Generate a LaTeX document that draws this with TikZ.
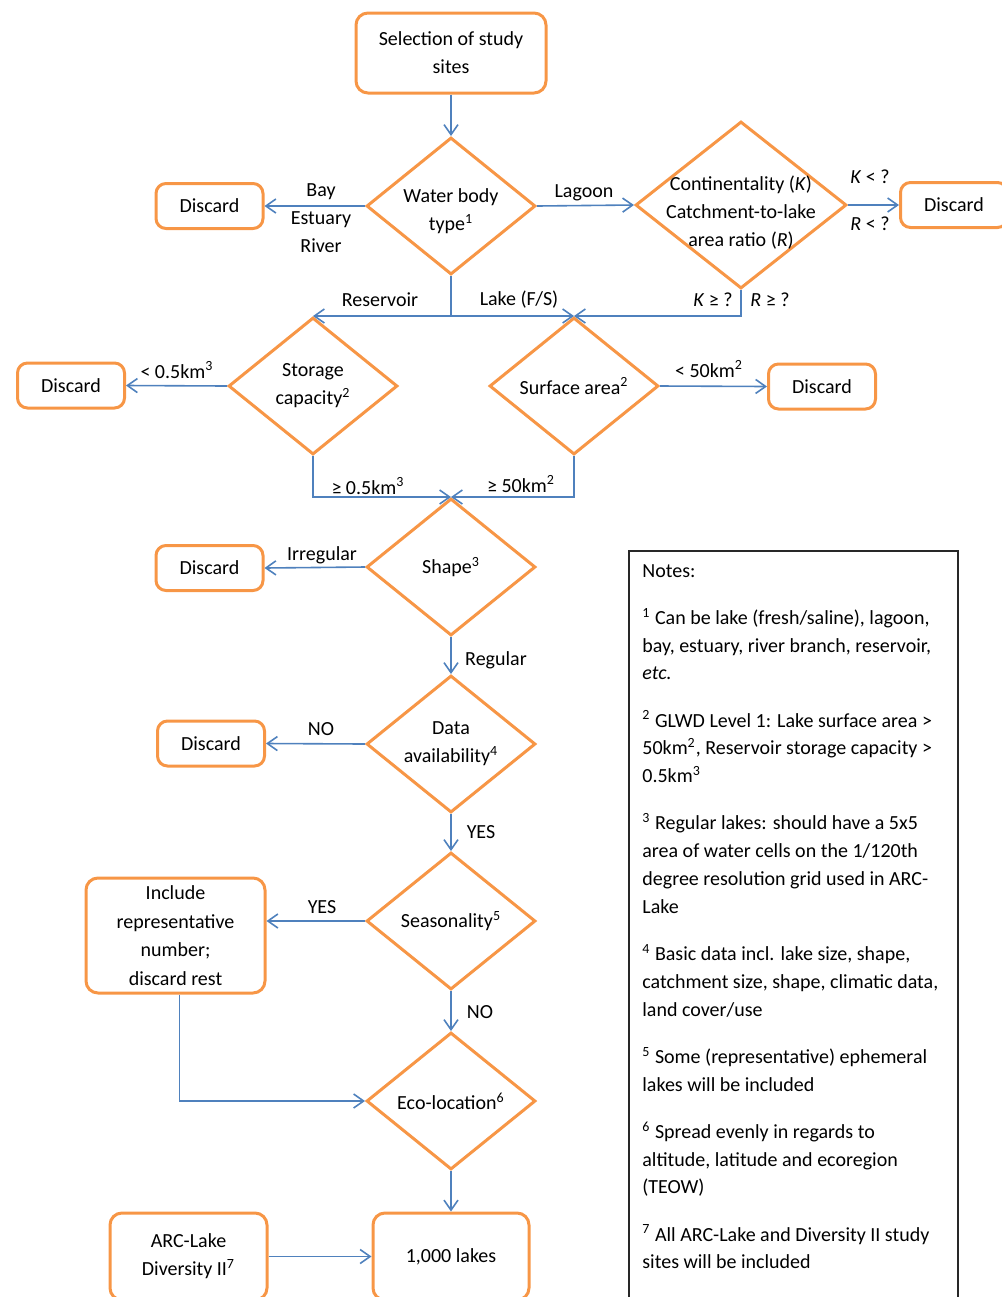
\documentclass[tikz,border=0pt]{standalone}
\usepackage{fontspec}
\setmainfont{Carlito}
\usepackage{tikz}
\usetikzlibrary{shapes.geometric, arrows.meta, positioning}
\definecolor{boxorange}{RGB}{247,150,70}
\definecolor{flowblue}{RGB}{79,129,189}
\definecolor{notegray}{RGB}{40,40,40}

\begin{document}
\begin{tikzpicture}[
    x=0.5pt, y=-0.5pt,
    every node/.style={font=\fontsize{10}{14}\selectfont, text=black},
    box/.style={rectangle, draw=boxorange, line width=1.5pt, rounded corners=6pt, align=center, inner sep=1pt},
    discard/.style={box, rounded corners=5pt, minimum width=53.5pt, minimum height=22.5pt},
    decision/.style={diamond, draw=boxorange, line width=1.5pt, inner sep=0pt, minimum width=84.5pt, minimum height=68.5pt},
    dtext/.style={draw=none, align=center, inner sep=0pt},
    arr/.style={-{Straight Barb[length=5pt, width=7pt]}, draw=flowblue, line width=0.8pt},
    lbl/.style={inner sep=0pt, align=center}
]
\path[use as bounding box] (0,0) rectangle (1002,1297);
\clip (0,0) rectangle (1002,1297);

% main flow
\node[box, minimum width=95pt, minimum height=40pt] (sel) at (451,53) {Selection of study\\sites};
\node[decision, label={[dtext, yshift=-2.75pt]center:Water body\\type\textsuperscript{1}}] (wb) at (451,206) {};
\node[decision, minimum width=105.5pt, minimum height=83.5pt,
      label={[dtext, yshift=-4pt]center:Continentality (\textit{K})\\Catchment-to-lake\\area ratio (\textit{R})}] (cont) at (741,205) {};
\node[decision, label={[dtext]center:Storage\\capacity\textsuperscript{2}}] (sc) at (313,386) {};
\node[decision, label={[dtext]center:Surface area\textsuperscript{2}}] (sa) at (574,386) {};
\node[decision, label={[dtext]center:Shape\textsuperscript{3}}] (sh) at (451,567) {};
\node[decision, label={[dtext]center:Data\\availability\textsuperscript{4}}] (da) at (451,744) {};
\node[decision, label={[dtext]center:Seasonality\textsuperscript{5}}] (se) at (451,921) {};
\node[decision, label={[dtext]center:Eco-location\textsuperscript{6}}] (eco) at (451,1101) {};
\node[box, minimum width=89.5pt, minimum height=57.5pt, font=\fontsize{10}{14.35}\selectfont] (inc) at (175.5,935.5) {Include\\representative\\number;\\discard rest};
\node[box, minimum width=78.5pt, minimum height=43.5pt] (arc) at (188.5,1256.5) {ARC-Lake\\Diversity II\textsuperscript{7}};
\node[box, minimum width=78pt, minimum height=43.5pt] (lakes) at (451,1256.5) {1,000 lakes};

% discard boxes
\node[discard] (dwb) at (209.5,206) {Discard};
\node[discard] (dcont) at (954,205) {Discard};
\node[discard] (dsc) at (71,385.5) {Discard};
\node[discard] (dsa) at (822,386.5) {Discard};
\node[discard] (dsh) at (209.5,568) {Discard};
\node[discard] (dda) at (211,743.5) {Discard};

% notes
\node[draw=notegray, line width=0.8pt, anchor=north west, minimum width=164.5pt, minimum height=390pt] (notes) at (628,550) {};
\node[anchor=north west, inner sep=0pt, align=left, font=\fontsize{10}{13.9}\selectfont] (notestxt) at ([xshift=7pt, yshift=-7.25pt]notes.north west) {%
Notes:\\[9.4pt]
\textsuperscript{1} Can be lake (fresh/saline), lagoon,\\
bay, estuary, river branch, reservoir,\\
\textit{etc.}\\[9.7pt]
\textsuperscript{2} GLWD Level 1: Lake surface area >\\
50km\textsuperscript{2}, Reservoir storage capacity >\\
0.5km\textsuperscript{3}\\[9.7pt]
\textsuperscript{3} Regular lakes: should have a 5x5\\
area of water cells on the 1/120th\\
degree resolution grid used in ARC-\\
Lake\\[9.7pt]
\textsuperscript{4} Basic data incl. lake size, shape,\\
catchment size, shape, climatic data,\\
land cover/use\\[9.7pt]
\textsuperscript{5} Some (representative) ephemeral\\
lakes will be included\\[9.7pt]
\textsuperscript{6} Spread evenly in regards to\\
altitude, latitude and ecoregion\\
(TEOW)\\[9.7pt]
\textsuperscript{7} All ARC-Lake and Diversity II study\\
sites will be included};

% connectors
\coordinate (split) at (wb.south |- sa.north);

\draw[arr] (sel) -- (wb);
\draw[arr] (wb.west) -- (dwb.east) node[lbl] at (321,218) {Bay\\Estuary\\River};
\draw[arr] (wb.east) -- (cont.west) node[lbl] at (584,193) {Lagoon};
\draw[arr] (cont.east) -- (dcont.west)
    node[lbl] at (870,177) {\textit{K} < ?}
    node[lbl] at (870,224) {\textit{R} < ?};
\draw[arr] (wb.south) -- (split) -- (sc.north) node[lbl] at (380,300) {Reservoir};
\draw[arr] (split) -- (sa.north) node[lbl] at (519,300) {Lake (F/S)};
\draw[arr] (cont.south) |- (sa.north)
    node[lbl] at (713,300) {\textit{K} ≥ ?}
    node[lbl] at (770,300) {\textit{R} ≥ ?};
\draw[arr] (sc.west) -- (dsc.east) node[lbl] at (177,370) {< 0.5km\textsuperscript{3}};
\draw[arr] (sa.east) -- (dsa.west) node[lbl] at (709,369) {< 50km\textsuperscript{2}};
\draw[arr] (sc.south) |- (sh.north) node[lbl] at (368,486) {≥ 0.5km\textsuperscript{3}};
\draw[arr] (sa.south) |- (sh.north) node[lbl] at (521,484) {≥ 50km\textsuperscript{2}};
\draw[arr] (sh.west) -- (dsh.east) node[lbl] at (322,555) {Irregular};
\draw[arr] (sh.south) -- (da.north) node[lbl] at (496,660) {Regular};
\draw[arr] (da.west) -- (dda.east) node[lbl] at (321,729) {NO};
\draw[arr] (da.south) -- (se.north) node[lbl] at (481,832) {YES};
\draw[arr] (se.west) -- (se.west -| inc.east) node[lbl] at (322,907) {YES};
\draw[arr] (se.south) -- (eco.north) node[lbl] at (480,1012) {NO};
\draw[arr] ([xshift=2pt]inc.south) |- (eco.west);
\draw[arr] (eco.south) -- (lakes.north);
\draw[arr] (arc.east) -- (lakes.west);
\end{tikzpicture}
\end{document}
